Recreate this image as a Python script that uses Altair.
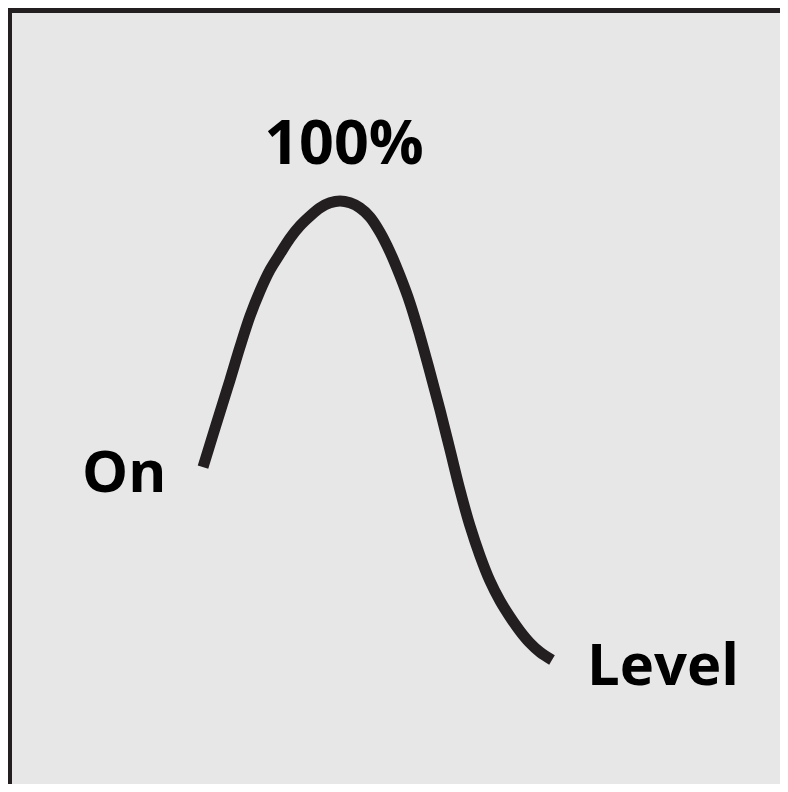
import altair as alt
import pandas as pd

# Curve: time (ms) vs output level (% of peak)
curve_t = [0, 9, 17, 27, 37, 47, 57, 67, 77, 87, 97, 107, 117, 127, 137, 147, 157, 167,
           177, 187, 197, 207, 217, 227, 237, 247, 257, 267, 277, 287, 297, 307, 317, 327,
           337, 349]
curve_level = [42.0, 48.4, 54.0, 61.0, 68.2, 74.9, 80.4, 85.0, 88.5, 91.9, 94.6, 96.7,
               98.5, 99.6, 100, 99.6, 98.5, 96.5, 93.2, 88.9, 83.7, 77.8, 70.6, 62.7,
               54.5, 45.8, 37.0, 29.2, 22.7, 17.2, 12.9, 9.4, 6.3, 3.7, 1.7, 0]

label_text = ["100%", "On", "Level"]
label_t = [141, -121, 384]
label_level = [108.0, 36.6, -5.4]
label_align = ["center", "left", "left"]

curve_df = pd.DataFrame({"x": curve_t, "y": curve_level})
label_df = pd.DataFrame({"x": label_t, "y": label_level, "label": label_text, "align": label_align})

W, H = 772, 776
xs = alt.Scale(domain=[0, 349], range=[195, 544])
ys = alt.Scale(domain=[0, 100], range=[652, 193])

line = alt.Chart(curve_df).mark_line(
    color="#231f20", strokeWidth=11, interpolate="catmull-rom", strokeCap="butt"
).encode(
    x=alt.X("x:Q", scale=xs, axis=None),
    y=alt.Y("y:Q", scale=ys, axis=None),
)

def text_layer(align, size):
    return alt.Chart(label_df[label_df["align"] == align]).mark_text(
        font="Open Sans", fontWeight="bold", fontSize=size, color="#000000",
        align=align, baseline="alphabetic"
    ).encode(
        x=alt.X("x:Q", scale=xs, axis=None),
        y=alt.Y("y:Q", scale=ys, axis=None),
        text="label:N",
    )

one = pd.DataFrame({"a": [0]})
top_border = alt.Chart(one).mark_rule(color="#231f20", strokeWidth=5).encode(
    x=alt.value(0), x2=alt.value(W), y=alt.value(2.5)
)
left_border = alt.Chart(one).mark_rule(color="#231f20", strokeWidth=4).encode(
    x=alt.value(2), y=alt.value(0), y2=alt.value(H)
)

chart = alt.layer(
    line, text_layer("center", 61), text_layer("left", 58), top_border, left_border
).properties(
    width=W, height=H,
    autosize=alt.AutoSizeParams(type="none"),
    padding=0,
    background="#e7e7e7",
).configure_view(strokeWidth=0)

chart.save("out.html", embed_options={"renderer": "svg", "actions": False})
